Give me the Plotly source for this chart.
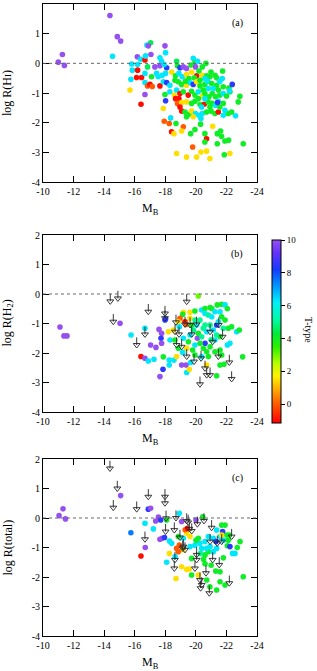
import plotly.graph_objects as go

# ---------------- data (M_B, log R, T-type) ----------------
hi_points = [
    (-14.38, 1.61, 10), (-14.86, 0.90, 10), (-15.08, 0.75, 10), (-14.55, 0.24, 6.3),
    (-11.27, 0.30, 10), (-11.00, 0.04, 10), (-11.40, -0.07, 10),
    (-16.80, 0.62, 6.3), (-17.04, 0.69, 4.5), (-16.89, 0.59, 10), (-17.98, 0.59, 10),
    (-18.02, 0.36, 6.3), (-16.17, 0.22, 10), (-16.38, 0.14, 6.3), (-16.67, 0.11, -1),
    (-17.06, 0.30, 10), (-16.71, 0.25, 6.3), (-15.80, -0.02, 6.3), (-17.65, 0.19, 6.3),
    (-17.76, 0.07, 6.3), (-18.74, 0.07, 4.5), (-19.83, 0.17, 6.3), (-19.94, 0.03, 4),
    (-20.11, 0.07, 6.3), (-16.19, -0.04, 6.3), (-16.84, -0.12, 4.5), (-17.32, -0.12, 10),
    (-17.65, -0.08, 10), (-18.09, -0.15, 8.5), (-17.93, -0.04, 6.3), (-18.80, -0.08, 4),
    (-18.96, -0.15, 8.5), (-19.18, -0.12, 10), (-19.39, -0.17, 10), (-19.68, -0.06, 4),
    (-19.98, -0.12, 10), (-20.42, -0.12, 4), (-20.66, 0.00, 4), (-20.99, -0.29, 4),
    (-21.75, -0.26, 4), (-15.84, -0.23, 6.3), (-16.19, -0.23, -1), (-16.12, -0.48, -1),
    (-16.45, -0.48, -1), (-16.67, -0.34, 6.3), (-17.10, -0.45, 4), (-17.43, -0.34, 6.3),
    (-17.54, -0.45, 6.3), (-17.80, -0.40, 6.3), (-18.02, -0.34, 6.3), (-18.41, -0.29, 1.5),
    (-18.67, -0.42, 4), (-18.89, -0.34, 6.3), (-19.11, -0.45, 6.3), (-19.39, -0.38, 1.5),
    (-19.72, -0.29, 1.5), (-20.05, -0.42, -1), (-20.20, -0.26, 4), (-20.42, -0.40, 1.5),
    (-20.70, -0.42, 4), (-20.92, -0.45, 4), (-21.36, -0.49, 4), (-21.73, -0.51, 6.3),
    (-19.90, -0.49, 4), (-19.55, -0.51, 4), (-15.75, -0.54, 6.3), (-15.69, -0.90, 1.5),
    (-16.67, -0.65, 6.3), (-16.84, -0.76, 0), (-17.00, -0.71, -1), (-17.15, -0.78, 0),
    (-17.65, -0.76, -1), (-17.87, -0.62, 6.3), (-18.09, -0.65, 8.5), (-18.30, -0.74, 6.3),
    (-18.63, -0.57, 4), (-18.85, -0.62, 4), (-19.07, -0.71, 4), (-19.39, -0.74, 1.5),
    (-19.61, -0.65, 6.3), (-19.83, -0.71, 8.5), (-20.05, -0.62, 1.5), (-20.27, -0.76, 4),
    (-20.59, -0.71, 4), (-20.77, -0.60, 6.3), (-21.03, -0.68, 4), (-21.36, -0.74, 4),
    (-21.57, -0.60, 6.3), (-21.79, -0.79, 4), (-22.16, -0.83, 4), (-22.38, -0.71, 8.5),
    (-16.67, -1.05, 10), (-17.98, -1.05, 4), (-18.30, -0.96, 6.3), (-18.59, -1.07, 1.5),
    (-18.74, -0.90, 6.3), (-18.96, -1.02, -1), (-19.18, -0.96, 4), (-19.50, -1.07, -1),
    (-19.72, -0.94, 4), (-19.94, -1.07, 4), (-20.16, -0.96, 6.3), (-20.42, -1.10, 1.5),
    (-20.59, -1.02, 4), (-20.86, -1.13, 4), (-21.07, -1.02, 4), (-21.29, -1.13, 4),
    (-21.57, -1.07, 4), (-21.79, -1.02, 6.3), (-22.01, -1.10, 4), (-22.23, -0.96, 4),
    (-22.88, -1.11, 4), (-16.41, -1.38, -1), (-18.02, -1.26, 8.5), (-18.67, -1.19, -1),
    (-18.89, -1.19, -1), (-18.80, -1.35, 0), (-19.07, -1.32, 1.5), (-19.39, -1.30, 1.5),
    (-19.72, -1.35, 4), (-19.94, -1.28, 4), (-20.27, -1.39, 4), (-20.55, -1.38, -1),
    (-20.81, -1.30, 4), (-21.07, -1.35, 4), (-21.29, -1.41, 6.3), (-21.47, -1.28, 6.3),
    (-21.79, -1.35, 4), (-22.77, -1.30, 4), (-17.87, -1.52, 1.5), (-18.96, -1.47, -1),
    (-19.07, -1.61, -1), (-19.29, -1.64, 4), (-19.55, -1.72, 4), (-19.72, -1.61, 1.5),
    (-19.98, -1.69, 6.3), (-20.20, -1.75, 6.3), (-20.42, -1.69, 6.3), (-20.70, -1.64, 4),
    (-20.99, -1.61, 4), (-21.25, -1.69, 4), (-21.47, -1.64, -1), (-21.79, -1.75, 6.3),
    (-22.12, -1.69, 4), (-22.34, -1.64, 4), (-22.60, -1.77, 6.3), (-18.35, -1.84, 6.3),
    (-19.39, -1.80, 4), (-19.83, -1.80, 1.5), (-20.33, -1.86, 6.3), (-17.93, -1.95, 0),
    (-18.26, -2.03, 0), (-18.70, -2.03, 4), (-18.41, -2.31, -1), (-18.57, -2.37, 1.5),
    (-19.18, -2.14, 0), (-19.07, -2.28, 1.5), (-19.66, -2.37, 4), (-19.94, -2.23, 4),
    (-20.31, -2.05, 4), (-20.59, -2.37, 4), (-21.10, -2.12, 1.5), (-20.70, -2.54, -1),
    (-20.59, -2.65, 4), (-21.40, -2.37, 4), (-21.62, -2.28, 4), (-21.68, -2.46, 4),
    (-21.90, -2.62, 4), (-22.14, -2.59, 4), (-21.40, -2.71, 4), (-23.10, -2.71, 4),
    (-19.79, -2.82, 0), (-18.74, -3.04, 1.5), (-19.39, -3.16, 1.5), (-20.05, -3.16, 1.5),
    (-20.33, -2.99, 1.5), (-20.70, -2.96, 1.5), (-20.92, -3.21, 1.5), (-21.86, -3.08, 4),
    (-22.23, -3.04, 1.5), (-20.59, -0.51, 6.3), (-20.27, -0.57, 4), (-21.14, -0.85, 6.3),
    (-20.81, -0.85, 6.3), (-20.48, -0.90, 4), (-21.47, -0.90, 4), (-21.25, -0.40, 4),
    (-19.33, -0.60, 4), (-20.92, -1.47, 4), (-21.57, -1.47, 4), (-21.90, -1.58, 6.3),
    (-20.59, -1.19, 6.3), (-20.16, -1.19, 4), (-20.38, -1.47, 6.3), (-21.42, -1.32, 8.5),
    (-22.20, -0.93, 6.3),
]

h2_points = [
    (-11.11, -1.12, 10), (-11.37, -1.42, 10), (-11.57, -1.42, 10), (-15.04, -0.99, 10),
    (-15.76, -1.39, 6.3), (-16.67, -1.16, 6.3), (-16.41, -2.12, -1), (-16.67, -2.18, 10),
    (-16.89, -2.27, 6.3), (-17.04, -1.73, 10), (-17.39, -1.81, 10), (-17.26, -2.21, 6.3),
    (-17.59, -1.20, 10), (-17.76, -1.33, 10), (-17.72, -1.50, 8.5), (-17.76, -1.67, 10),
    (-17.87, -2.13, 4), (-17.85, -2.55, 8.5), (-17.65, -2.80, 10), (-18.02, -0.85, 8.5),
    (-18.26, -2.24, 6.3), (-18.57, -2.24, 6.3), (-18.74, -2.12, 1.5), (-18.26, -2.41, 6.3),
    (-19.07, -2.41, 10), (-19.36, -2.41, 10), (-19.66, -2.32, 6.3), (-19.40, -2.66, 6.3),
    (-19.57, -2.55, 1.5), (-20.71, -2.41, 1.5), (-20.82, -2.12, 4), (-21.36, -2.77, 4),
    (-21.58, -2.41, 4), (-21.84, -2.38, 4), (-20.10, -1.50, 10), (-20.60, -1.67, 8.5),
    (-21.36, -1.05, 8.5), (-18.31, -1.56, 6.3), (-18.63, -1.56, 4), (-19.18, -1.50, 6.3),
    (-19.51, -1.62, 4), (-19.94, -1.73, 6.3), (-20.27, -1.67, 4), (-20.49, -1.84, 4),
    (-20.93, -1.79, 4), (-21.25, -1.96, 4), (-21.58, -1.90, 4), (-22.06, -1.73, 6.3),
    (-19.79, -1.90, 4), (-19.40, -1.84, 1.5), (-19.14, -1.98, 6.3), (-18.85, -1.84, 4),
    (-19.94, -2.07, 4), (-20.38, -2.12, 6.3), (-20.71, -1.96, 4), (-21.69, -2.07, 4),
    (-21.25, -1.56, 6.3), (-21.58, -1.45, 4), (-20.16, -0.07, 3), (-19.18, -0.62, 1.5),
    (-19.14, -0.69, 4), (-19.62, -0.62, 1.5), (-19.94, -0.58, 4), (-20.38, -0.54, 6.3),
    (-20.60, -0.49, 4), (-20.93, -0.46, 4), (-21.04, -0.49, 4), (-21.40, -0.37, 4),
    (-21.69, -0.35, 4), (-21.91, -0.37, 6.3), (-20.60, -0.66, 6.3), (-20.82, -0.71, 5),
    (-21.04, -0.77, 6.3), (-21.25, -0.60, 6.3), (-21.58, -0.60, 6.3), (-21.69, -0.77, 4),
    (-21.91, -0.88, 4), (-21.47, -0.94, 6.3), (-22.12, -1.16, 4), (-22.34, -1.11, 4),
    (-22.67, -1.28, 6.3), (-22.84, -1.22, 4), (-23.06, -2.13, 4), (-22.23, -1.67, 6.3),
    (-18.96, -0.82, 0), (-19.29, -0.94, -1), (-19.36, -1.03, 0), (-18.20, -1.28, 1.5),
    (-18.53, -1.22, 1.5), (-18.85, -0.94, 1.5), (-19.62, -0.82, 1.5), (-18.92, -1.11, 6.3),
    (-17.98, -0.88, 8.5), (-20.05, -1.05, 6.3), (-20.27, -0.88, 5), (-20.49, -1.16, 5),
    (-20.71, -1.28, 6.3), (-20.93, -1.05, 5), (-21.14, -1.22, 6.3), (-21.36, -1.39, 5),
    (-20.16, -1.33, 4), (-19.84, -1.22, 5), (-19.62, -1.39, 6.3), (-21.80, -1.16, 5),
    (-20.38, -1.45, 5), (-19.73, -1.05, 4), (-19.95, -0.88, 5), (-21.00, -1.55, 5),
    (-20.60, -1.05, 5), (-22.06, -0.50, 4),
]

h2_limits = [
    (-14.40, -0.25), (-14.90, -0.15), (-14.60, -0.94), (-16.89, -0.60), (-17.98, -0.66),
    (-17.98, -0.82), (-16.13, -1.73), (-16.67, -1.37), (-19.40, -0.26), (-18.70, -0.96),
    (-19.29, -1.03), (-18.64, -1.28), (-18.90, -1.37), (-18.74, -1.73), (-19.07, -1.79),
    (-19.62, -1.05), (-20.05, -1.03), (-20.93, -1.28), (-19.73, -1.37), (-21.75, -1.45),
    (-21.10, -1.62), (-19.40, -2.12), (-19.88, -2.29), (-20.34, -2.18), (-20.60, -2.52),
    (-20.71, -2.75), (-20.93, -2.75), (-20.27, -3.06), (-21.47, -2.12), (-22.19, -2.32),
    (-22.34, -2.88), (-21.50, -1.05),
]

tot_points = [
    (-11.05, 0.08, 10), (-11.31, 0.31, 10), (-11.47, -0.03, 10), (-15.08, 0.76, 10),
    (-16.89, 0.30, 8.5), (-17.04, 0.33, 10), (-15.75, -0.50, 7.5), (-16.67, -0.18, 6.3),
    (-16.69, -1.00, 10), (-16.41, -1.29, -1), (-17.22, -0.37, 6.3), (-17.37, -0.10, 10),
    (-17.55, 0.03, 10), (-17.70, -0.07, 8.5), (-17.80, -0.69, 10), (-17.65, -0.72, 10),
    (-17.95, -0.66, 8.5), (-18.09, -0.07, 4), (-18.92, 0.16, 6.3), (-19.07, -0.12, 10),
    (-20.01, -0.07, 10), (-20.45, 0.04, 4), (-18.09, -1.50, 6.3), (-18.27, -1.20, 1.5),
    (-18.27, -0.78, 6.3), (-18.42, -0.86, 6.3), (-18.74, -1.03, 0), (-18.92, -0.92, 0),
    (-19.14, -1.08, 1.5), (-18.85, -1.14, 0), (-18.64, -1.31, 6.3), (-19.07, -1.65, 1.5),
    (-19.40, -1.74, 1.5), (-19.57, -1.73, 1.5), (-18.70, -2.05, 1.5), (-19.72, -1.93, 4),
    (-20.16, -1.93, 1.5), (-19.72, -1.37, 4), (-20.60, -1.25, 4), (-20.82, -1.14, 4),
    (-21.36, -1.03, 6.3), (-21.91, -0.24, 4), (-21.69, -0.24, 4), (-22.06, -0.94, 4),
    (-22.56, -1.20, 6.3), (-22.71, -1.00, 4), (-22.89, -0.80, 4), (-23.10, -1.99, 4),
    (-21.58, -1.82, 4), (-21.58, -2.16, 4), (-21.91, -2.27, 4), (-21.36, -2.44, 4),
    (-20.71, -2.10, 4), (-20.92, -2.33, 4), (-21.36, -0.41, 6.3), (-21.58, -0.63, 6.3),
    (-21.80, -0.75, 6.3), (-22.02, -0.58, 4), (-22.19, -0.58, 4), (-20.82, -0.63, 6.3),
    (-20.60, -0.80, 6.3), (-20.27, -0.86, 6.3), (-19.94, -0.92, 6.3), (-19.62, -0.97, 6.3),
    (-20.38, -1.03, 6.3), (-20.71, -1.03, 6.3), (-20.93, -0.97, 6.3), (-21.14, -1.14, 6.3),
    (-20.16, -0.69, 4), (-19.62, -0.63, 1.5), (-20.01, -0.75, 4), (-19.40, -0.52, 1.5),
    (-19.18, -0.69, 6.3), (-18.85, -0.63, 4), (-21.14, -0.69, 6.3), (-21.32, -0.80, 8.5),
    (-21.75, -0.46, 8.5), (-22.23, -0.97, 8.5), (-21.69, -0.58, 1.5), (-22.12, -0.75, 4),
    (-19.30, -0.40, 0), (-19.45, -0.35, -1), (-21.00, -1.60, 4), (-20.50, -1.40, 4),
    (-21.30, -1.80, 4), (-22.40, -1.20, 6.3), (-20.30, -1.20, 5), (-20.60, -1.55, 4),
    (-21.80, -1.35, 4),
]

tot_limits = [
    (-14.38, 1.68), (-14.86, 1.00), (-14.60, 0.35), (-16.13, 0.30), (-16.89, 0.72),
    (-17.98, 0.72), (-17.98, 0.50), (-18.05, -0.01), (-16.67, -0.72), (-18.02, -0.46),
    (-18.59, -0.41), (-18.70, 0.00), (-18.96, -0.66), (-19.18, -0.97), (-18.63, -1.42),
    (-18.59, -1.71), (-19.14, -1.03), (-19.29, -1.08), (-19.40, -0.10), (-19.50, -0.15),
    (-19.57, -0.37), (-19.73, -0.44), (-20.10, -0.21), (-20.53, -0.10), (-21.03, -0.33),
    (-20.93, -0.80), (-21.40, -0.86), (-21.69, -0.80), (-22.34, -0.63), (-20.05, -1.25),
    (-20.05, -1.42), (-21.10, -1.42), (-21.53, -1.59), (-19.94, -1.71), (-20.66, -1.87),
    (-20.27, -2.10), (-20.38, -2.27), (-20.31, -2.38), (-20.88, -2.55), (-22.19, -2.21),
]

x_ticks = [-10, -12, -14, -16, -18, -20, -22, -24]
y_ticks = [2, 1, 0, -1, -2, -3, -4]
cb_ticks = [0, 2, 4, 6, 8, 10]
panel_labels = ["(a)", "(b)", "(c)"]
y_titles = ["log R(H<span style='font-size:9px'>I</span>)",
            "log R(H<sub>2</sub>)", "log R(total)"]

# ---------------- style ----------------
W, H = 317, 671
FONT = "Liberation Serif, Times New Roman, serif"
T_MIN, T_MAX = -1.15, 10
stops = [(-1.15, (255, 0, 0)), (0, (255, 90, 0)), (1, (255, 180, 0)), (1.7, (255, 240, 0)),
         (2.5, (180, 255, 0)), (3.5, (40, 240, 0)), (4.3, (0, 235, 60)), (5.2, (0, 250, 170)),
         (6.2, (0, 240, 250)), (7.2, (0, 150, 255)), (8.2, (20, 60, 255)), (9.2, (100, 50, 250)),
         (10, (150, 80, 240))]
colorscale = [[(t - T_MIN) / (T_MAX - T_MIN), "rgb(%d,%d,%d)" % c] for t, c in stops]

x_dom = [43 / W, 257 / W]
y_px = [(4, 182), (235, 412), (459, 636)]
y_doms = [[1 - b / H, 1 - t / H] for t, b in y_px]

fig = go.Figure()

def unpack(rows):
    return [list(c) for c in zip(*rows)]

panels = [(hi_points, None), (h2_points, h2_limits), (tot_points, tot_limits)]
for i, (pts, lims) in enumerate(panels):
    xa = "x" if i == 0 else "x%d" % (i + 1)
    ya = "y" if i == 0 else "y%d" % (i + 1)
    m, r, t = unpack(pts)
    fig.add_trace(go.Scatter(x=m, y=r, mode="markers", xaxis=xa, yaxis=ya,
                             marker=dict(size=5.6, color=t, coloraxis="coloraxis",
                                         line=dict(width=0)),
                             showlegend=False, hoverinfo="skip"))
    if lims:
        lm, lr = unpack(lims)
        fig.add_trace(go.Scatter(x=lm, y=lr, mode="markers", xaxis=xa, yaxis=ya,
                                 marker=dict(symbol="triangle-down-open", size=6,
                                             color="#222", line=dict(width=0.9, color="#222")),
                                 error_y=dict(type="data", symmetric=False,
                                              array=[0.26] * len(lm), arrayminus=[0] * len(lm),
                                              width=0, thickness=0.9, color="#222"),
                                 showlegend=False, hoverinfo="skip"))

axis_common = dict(showline=True, linecolor="black", linewidth=1, mirror="ticks",
                   ticks="inside", ticklen=6, tickcolor="black", tickwidth=1,
                   showgrid=False, zeroline=False, automargin=False,
                   tickfont=dict(family=FONT, size=10, color="black"))

layout = dict(width=W, height=H, margin=dict(l=0, r=0, t=0, b=0, pad=0, autoexpand=False),
              paper_bgcolor="white", plot_bgcolor="white",
              font=dict(family=FONT, color="black"),
              coloraxis=dict(cmin=T_MIN, cmax=T_MAX, colorscale=colorscale,
                             colorbar=dict(x=272 / W, xanchor="left", y=1 - 331.5 / H,
                                           yanchor="middle", len=183 / H, lenmode="fraction",
                                           thickness=9, thicknessmode="pixels",
                                           outlinewidth=1, outlinecolor="black",
                                           ticks="outside", ticklen=4, tickcolor="black",
                                           tickvals=cb_ticks, ticktext=[str(v) for v in cb_ticks],
                                           tickfont=dict(family=FONT, size=9, color="black"),
                                           xpad=0, ypad=0)))
shapes, annotations = [], []
for i in range(3):
    sfx = "" if i == 0 else str(i + 1)
    layout["xaxis" + sfx] = dict(axis_common, domain=x_dom, range=[-10, -24],
                                 tickvals=x_ticks, ticktext=[str(v) for v in x_ticks],
                                 anchor="y" + sfx)
    layout["yaxis" + sfx] = dict(axis_common, domain=y_doms[i], range=[-4, 2],
                                 tickvals=y_ticks, ticktext=[str(v) for v in y_ticks],
                                 anchor="x" + sfx)
    shapes.append(dict(type="line", xref="x" + sfx, yref="y" + sfx, x0=-10, x1=-24, y0=0, y1=0,
                       line=dict(color="#666", width=1, dash="dot")))
    annotations.append(dict(xref="x" + sfx, yref="y" + sfx, x=-22.7, y=1.37,
                            xanchor="center", yanchor="middle",
                            text=panel_labels[i], showarrow=False,
                            font=dict(family=FONT, size=10, color="black")))
    top, bot = y_px[i]
    annotations.append(dict(xref="paper", yref="paper", x=7 / W, y=1 - (top + bot) / 2 / H,
                            xanchor="center", yanchor="middle",
                            text=y_titles[i], textangle=-90, showarrow=False,
                            font=dict(family=FONT, size=12, color="black")))
    annotations.append(dict(xref="paper", yref="paper", x=150 / W, y=1 - (bot + 27) / H,
                            xanchor="center", yanchor="middle",
                            text="M<sub>B</sub>", showarrow=False,
                            font=dict(family=FONT, size=12, color="black")))
annotations.append(dict(xref="paper", yref="paper", x=309 / W, y=1 - 330 / H, text="T-type",
                        xanchor="center", yanchor="middle",
                        textangle=90, showarrow=False,
                        font=dict(family=FONT, size=10, color="black")))
layout["shapes"] = shapes
layout["annotations"] = annotations
fig.update_layout(**layout)
fig.write_html("out.html", config={"displayModeBar": False},
               post_script="document.body.style.margin='0';document.body.style.overflow='hidden';")
